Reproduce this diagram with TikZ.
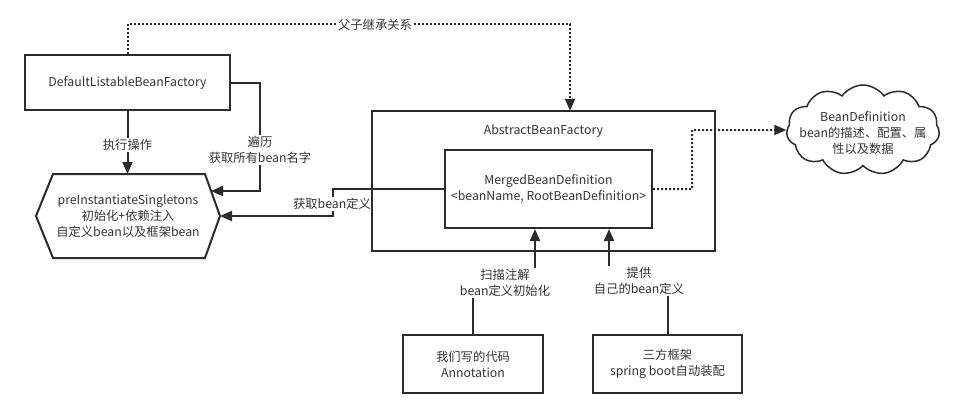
\documentclass[tikz,border=0pt]{standalone}
\usepackage{fontspec}
\setmainfont{Noto Sans CJK SC}
\usetikzlibrary{arrows.meta,shapes.symbols,calc}
\definecolor{ink}{HTML}{2B2B2B}
\definecolor{txt}{HTML}{333333}
\begin{document}
\begin{tikzpicture}[x=1pt,y=-1pt,
  every node/.style={font=\fontsize{12.3}{16}\selectfont,text=txt,align=center},
  box/.style={draw=ink,line width=2pt,rectangle,inner sep=0pt},
  conn/.style={draw=ink,line width=2pt},
  arr/.style={conn,-{Triangle[length=12pt,width=10pt]}},
  dotconn/.style={draw=ink,line width=2pt,dash pattern=on 2pt off 2pt,-{Triangle[length=12pt,width=10pt]}},
  lbl/.style={fill=white,inner sep=1pt}]
\useasboundingbox (0,0) rectangle (971,418);
% nodes
\node[box,minimum width=205pt,minimum height=55pt] (dlbf) at (127.5,82.5) {DefaultListableBeanFactory};
\draw[conn,fill=white] (36,216) -- (53,174) -- (205,174) -- (220,216) -- (205,258) -- (53,258) -- cycle;
\node (hex) at (128,216) {preInstantiateSingletons\\初始化+依赖注入\\自定义bean以及框架bean};
\coordinate (hexN) at (127.5,174);
\coordinate (hexE) at (220,216);
\coordinate (hexNE) at (211,191);
\node[minimum width=343pt,minimum height=140pt,inner sep=0pt] (abf) at (543.5,181) {};
\node (abftext) at (543.5,131) {AbstractBeanFactory};
\node[box,minimum width=207pt,minimum height=78pt] (mbd) at (548.5,189) {MergedBeanDefinition\\<beanName, RootBeanDefinition>};
\node[cloud,draw=ink,line width=1.5pt,cloud puffs=11,cloud puff arc=110,aspect=1.7,minimum width=153pt,minimum height=90pt,inner sep=0pt] (cloud) at (863,130) {};
\node (cloudtext) at (863,133) {BeanDefinition\\bean的描述、配置、属\\性以及数据};
\node[box,minimum width=140pt,minimum height=58pt] (ann) at (473,364) {我们写的代码\\Annotation};
\node[box,minimum width=149pt,minimum height=58pt] (third) at (667.5,364) {三方框架\\spring boot自动装配};
% connectors
\draw[dotconn] (dlbf.north) -- ++(0,-30) -| (abf.north -| 570,0);
\node[lbl] (lblparent) at (375,25) {父子继承关系};
\draw[arr] (dlbf.south) -- (hexN);
\node[lbl] (lblexec) at (127.5,145) {执行操作};
\draw[arr] (dlbf.east) -| (260,191) -- (hexNE);
\node[lbl] (lbltrav) at (260,150) {遍历\\获取所有bean名字};
\draw[arr] (mbd.west) -- (333,189) -- (333,216) -- (hexE);
\node[lbl] (lblget) at (332,204) {获取bean定义};
\draw[box] (abf.north west) rectangle (abf.south east);
\draw[dotconn] (mbd.east) -- (692,189) -- (692,130) -- (cloud.west);
\draw[arr] (ann.north) -- (473,283) -- (535,283) -- ([xshift=-13.5pt]mbd.south);
\node[lbl] (lblscan) at (505,283) {扫描注解\\bean定义初始化};
\draw[arr] (third.north) -- (667.5,281) -- (609,281) -- ([xshift=60.5pt]mbd.south);
\node[lbl] (lblprov) at (639,281) {提供\\自己的bean定义};
\end{tikzpicture}
\end{document}
